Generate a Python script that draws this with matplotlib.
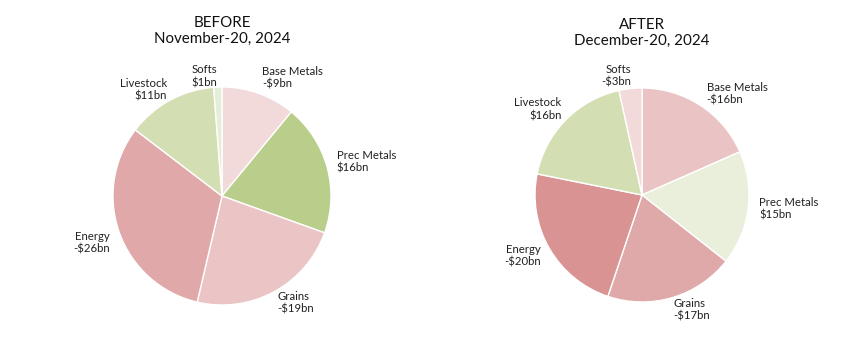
import numpy as np
import matplotlib
matplotlib.use("Agg")
import matplotlib.pyplot as plt

plt.rcParams['font.family'] = ['Lato', 'DejaVu Sans']

categories = ["Base Metals", "Prec Metals", "Grains", "Energy", "Livestock", "Softs"]
before_vals = [-9, 16, -19, -26, 11, 1]
after_vals = [-16, 15, -17, -20, 16, -3]
titles = ["BEFORE\nNovember-20, 2024", "AFTER\nDecember-20, 2024"]

before_colors = ["#F2D9DA", "#B8CE8A", "#EBC5C5", "#E0A8A8", "#D3DFB3", "#E6EDD8"]
after_colors = ["#EAC4C4", "#EAEFDC", "#E0A9A9", "#D89392", "#D3DFB3", "#F2D9DA"]

# label placement (distance in radii, angle nudge in degrees)
before_dist = [1.26, 1.36, 1.19, 1.27, 1.21, 1.11]
before_nudge = [-11, -2, 6, 0, 8, 6]
after_dist = [1.30, 1.38, 1.17, 1.25, 1.26, 1.14]
after_nudge = [-10, 2, 7, -3, 5, 6]


def fmt(v):
    return ("-$%dbn" % abs(v)) if v < 0 else ("$%dbn" % v)


def draw(ax, vals, colors, title, dist, nudge):
    wedges, _ = ax.pie(np.abs(vals), colors=colors, startangle=90, counterclock=False,
                       radius=1, wedgeprops=dict(edgecolor="white", linewidth=1.0))
    ax.set_xlim(-1, 1)
    ax.set_ylim(-1, 1)
    ax.set_aspect("equal")
    for w, cat, v, d, n in zip(wedges, categories, vals, dist, nudge):
        ang = np.deg2rad((w.theta1 + w.theta2) / 2 + n)
        x, y = d * np.cos(ang), d * np.sin(ang)
        ma = "left" if x > 0.05 else "right"
        ax.text(x, y, cat + "\n" + fmt(v), ha="center", va="center", fontsize=8.2,
                multialignment=ma, color="#222222", linespacing=1.2, clip_on=False)
    ax.text(0.5, 1.257, title, transform=ax.transAxes, ha="center", va="center",
            fontsize=10.9, color="#111111", linespacing=1.12)


fig = plt.figure(figsize=(8.45, 3.55), dpi=100)
ax1 = fig.add_axes([113 / 845, 50 / 355, 218 / 845, 218 / 355])
ax2 = fig.add_axes([535 / 845, 53 / 355, 214 / 845, 214 / 355])

draw(ax1, before_vals, before_colors, titles[0], before_dist, before_nudge)
draw(ax2, after_vals, after_colors, titles[1], after_dist, after_nudge)

fig.savefig("out.png", dpi=100, facecolor="white")
